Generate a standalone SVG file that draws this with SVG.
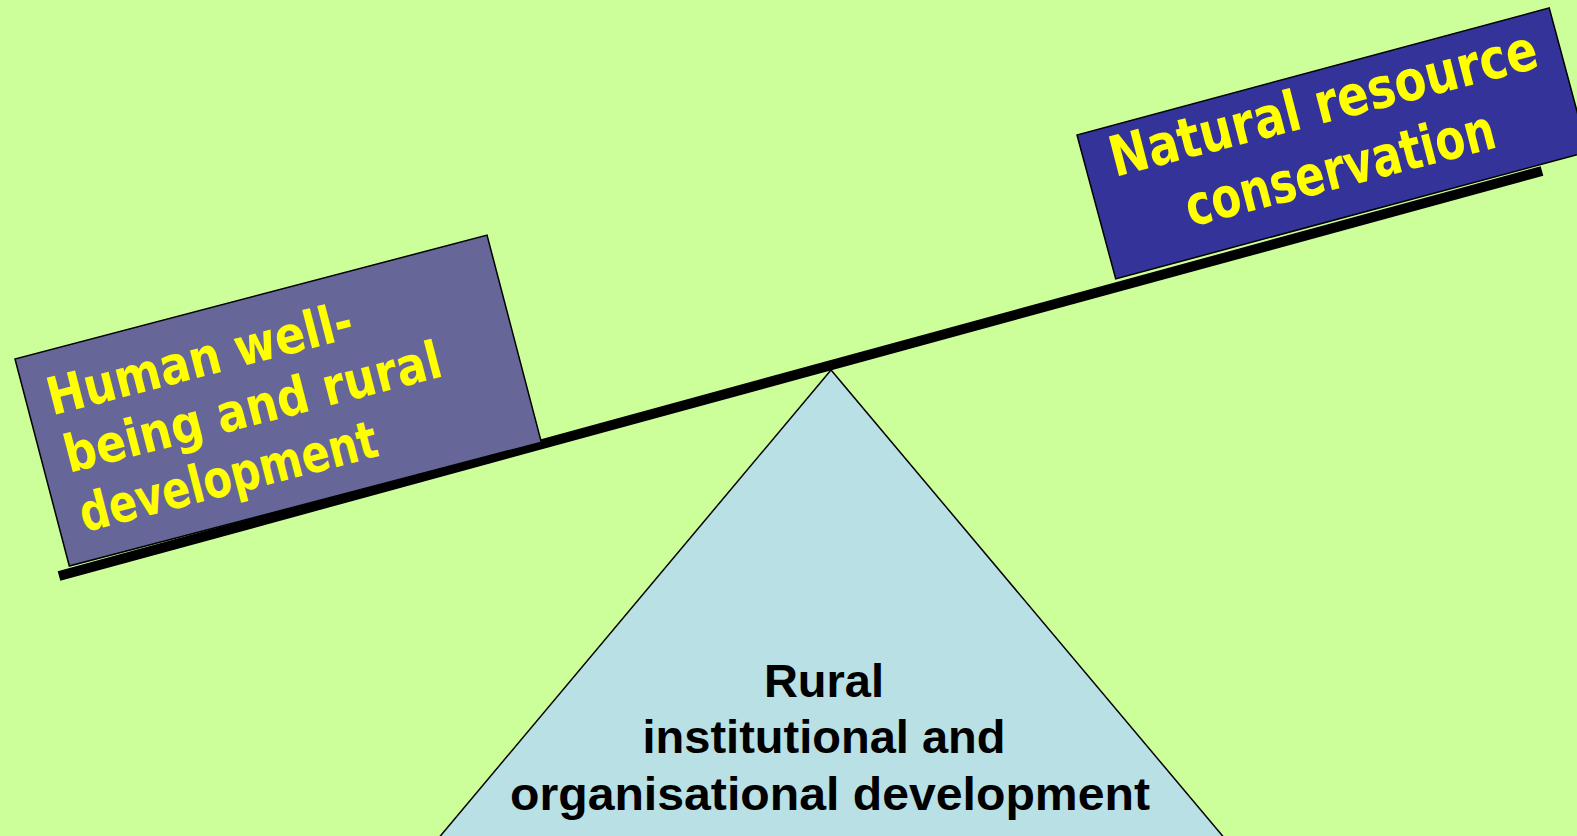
<svg xmlns="http://www.w3.org/2000/svg" width="1577" height="836" viewBox="0 0 1577 836">
  <style>
    .box { stroke: #000; stroke-width: 1.5; }
    .ytxt { font-family: "DejaVu Sans", "Liberation Sans", sans-serif; font-weight: bold; fill: #ffff00; }
    .btxt { font-family: "Liberation Sans", Arial, sans-serif; font-weight: bold; font-size: 47px; fill: #000; text-anchor: middle; }
  </style>
  <rect x="0" y="0" width="1577" height="836" fill="#ccff99"/>

  <g id="fulcrum">
    <polygon points="831,370 437,840 1226,840" fill="#b9e0e4" stroke="#000" stroke-width="1.5"/>
    <text class="btxt" x="824" y="697">Rural</text>
    <text class="btxt" x="824" y="753">institutional and</text>
    <text class="btxt" x="830" y="810" textLength="640" lengthAdjust="spacingAndGlyphs">organisational development</text>
  </g>

  <g id="connectors">
    <line id="beam" x1="59" y1="576" x2="1542" y2="171" stroke="#000" stroke-width="10"/>
  </g>

  <g id="human-wellbeing">
    <rect class="box" x="0" y="0" width="488" height="214" fill="#666699" transform="translate(15,359) rotate(-14.7)"/>
    <g transform="translate(58,414) rotate(-14.5)">
      <text class="ytxt" font-size="52" x="-6" y="0" textLength="314" lengthAdjust="spacingAndGlyphs">Human well-</text>
      <text class="ytxt" font-size="52" x="-4" y="60" textLength="388" lengthAdjust="spacingAndGlyphs">being and rural</text>
      <text class="ytxt" font-size="52" x="-4" y="121" textLength="306" lengthAdjust="spacingAndGlyphs">development</text>
    </g>
  </g>

  <g id="natural-resource">
    <rect class="box" x="0" y="0" width="489" height="149" fill="#333399" transform="translate(1077,135) rotate(-15.06)"/>
    <g transform="translate(1328,122) rotate(-14.5)">
      <text class="ytxt" font-size="56" x="0" y="0" text-anchor="middle" textLength="440" lengthAdjust="spacingAndGlyphs">Natural resource</text>
      <text class="ytxt" font-size="56" x="0" y="67" text-anchor="middle" textLength="318" lengthAdjust="spacingAndGlyphs">conservation</text>
    </g>
  </g>
</svg>
